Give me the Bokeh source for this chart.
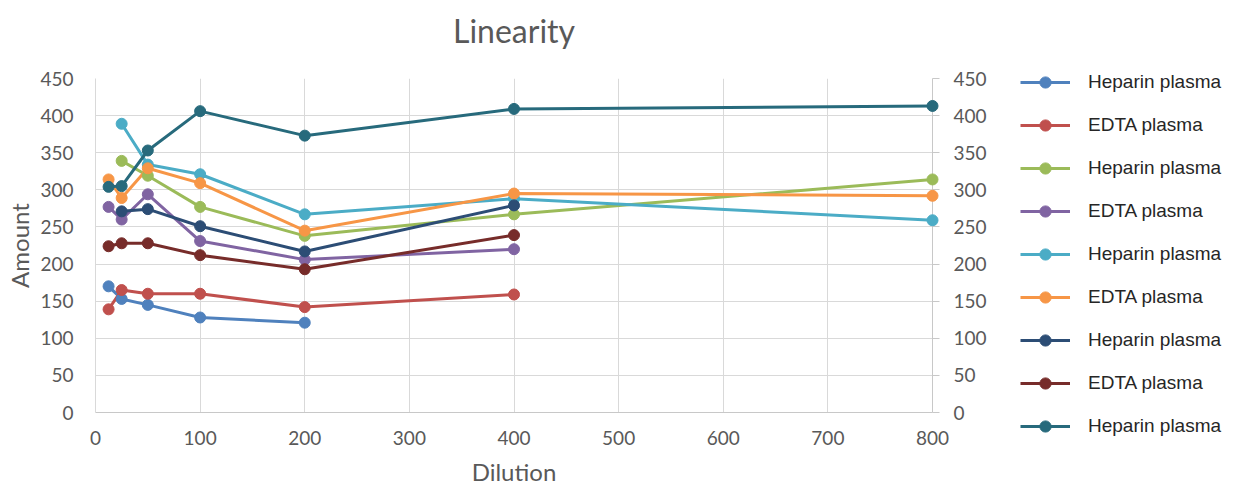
from bokeh.plotting import figure
from bokeh.layouts import row
from bokeh.models import (Range1d, LinearAxis, Legend, LegendItem,
                          SingleIntervalTicker, Title)
from bokeh.embed import file_html
from bokeh.resources import INLINE

nan = float("nan")

# Dilution factors (x)
dilution = [12.5, 25, 50, 100, 200, 400, 800]

# Amount per series (NaN = no measurement)
heparin_1 = [170, 153, 145, 128, 121, nan, nan]
edta_1 = [139, 165, 160, 160, 142, 159, nan]
heparin_2 = [nan, 339, 319, 277, 238, 267, 314]
edta_2 = [277, 260, 294, 231, 206, 220, nan]
heparin_3 = [nan, 389, 334, 321, 267, 288, 259]
edta_3 = [314, 289, 329, 309, 245, 295, 292]
heparin_4 = [nan, 271, 274, 251, 217, 279, nan]
edta_4 = [224, 228, 228, 212, 193, 239, nan]
heparin_5 = [304, 305, 353, 406, 373, 409, 413]

series_labels = ["Heparin plasma", "EDTA plasma", "Heparin plasma", "EDTA plasma",
                 "Heparin plasma", "EDTA plasma", "Heparin plasma", "EDTA plasma",
                 "Heparin plasma"]
series_values = [heparin_1, edta_1, heparin_2, edta_2, heparin_3, edta_3,
                 heparin_4, edta_4, heparin_5]
series_colors = ["#4F81BD", "#C0504D", "#9BBB59", "#8064A2", "#4BACC6",
                 "#F79646", "#2C4D75", "#772C2A", "#276A7C"]

FONT = "Lato"
GREY = "#595959"

# ---------------- main chart ----------------
p = figure(width=1020, height=491, output_backend="svg", toolbar_location=None,
           title=None,
           x_range=Range1d(0, 800), y_range=Range1d(0, 450),
           min_border_left=95, min_border_right=88, min_border_top=78,
           min_border_bottom=79)
p.outline_line_color = None
p.background_fill_color = "white"
p.border_fill_color = "white"

# spacer title (closest to the frame), then the real title above it
p.add_layout(Title(text=" ", text_font_size="10px", standoff=4), "above")
p.add_layout(Title(text="Linearity", align="center", vertical_align="top",
                   text_font=FONT, text_font_size="32px",
                   text_font_style="normal", text_color=GREY, standoff=20),
             "above")

xt = SingleIntervalTicker(interval=100)
yt = SingleIntervalTicker(interval=50)

p.xaxis.ticker = xt
p.yaxis.ticker = yt
p.xgrid.ticker = xt
p.ygrid.ticker = yt
p.grid.grid_line_color = "#d9d9d9"
p.grid.grid_line_width = 1

for ax in (p.xaxis[0], p.yaxis[0]):
    ax.major_tick_out = 0
    ax.major_tick_in = 0
    ax.minor_tick_out = 0
    ax.minor_tick_in = 0
    ax.major_label_text_font = FONT
    ax.major_label_text_font_size = "19px"
    ax.major_label_text_color = GREY
    ax.axis_label_text_font = FONT
    ax.axis_label_text_font_size = "24px"
    ax.axis_label_text_font_style = "normal"
    ax.axis_label_text_color = GREY

p.xaxis.axis_line_color = "#c8c8c8"
p.xaxis.major_label_standoff = 18
p.xaxis.axis_label = "Dilution"
p.xaxis.axis_label_standoff = 9

p.yaxis.axis_line_color = "#d9d9d9"
p.yaxis.major_label_standoff = 22
p.yaxis.axis_label = "Amount"
p.yaxis.axis_label_standoff = 3

p.extra_y_ranges = {"right": Range1d(0, 450)}
ry = LinearAxis(y_range_name="right", ticker=SingleIntervalTicker(interval=50))
ry.axis_line_color = "#c8c8c8"
ry.major_tick_out = 7
ry.major_tick_in = 0
ry.major_tick_line_color = "#c8c8c8"
ry.minor_tick_out = 0
ry.minor_tick_in = 0
ry.major_label_standoff = 14
ry.major_label_text_font = FONT
ry.major_label_text_font_size = "19px"
ry.major_label_text_color = GREY
p.add_layout(ry, "right")

for vals, col in zip(series_values, series_colors):
    p.line(dilution, vals, line_color=col, line_width=3)
    p.scatter(dilution, vals, size=11, fill_color=col, line_color=col,
              level="overlay")

# ---------------- legend panel ----------------
# The same series are drawn here out of view (range 0..1); only the legend shows.
lg = figure(width=215, height=491, output_backend="svg", toolbar_location=None,
            title=None, x_axis_type=None, y_axis_type=None,
            x_range=Range1d(0, 1), y_range=Range1d(0, 1), min_border=0)
lg.outline_line_color = None
lg.background_fill_color = "white"
lg.border_fill_color = "white"
try:
    lg.frame_align = False
except Exception:
    pass

items = []
for lab, vals, col in zip(series_labels, series_values, series_colors):
    lr = lg.line(dilution, vals, line_color=col, line_width=3)
    sr = lg.scatter(dilution, vals, size=11, fill_color=col, line_color=col)
    items.append(LegendItem(label=lab, renderers=[lr, sr]))

legend = Legend(items=items, location=(0, 51), ncols=1)
legend.background_fill_alpha = 0
legend.border_line_color = None
legend.padding = 0
legend.margin = 0
legend.spacing = 15
legend.glyph_width = 50
legend.glyph_height = 28
legend.label_height = 28
legend.label_standoff = 18
legend.label_text_font = "Liberation Sans"
legend.label_text_font_size = "19px"
legend.label_text_color = "#262626"
lg.add_layout(legend, "center")

layout = row(p, lg, spacing=0)
open("out.html", "w").write(file_html(layout, INLINE))
